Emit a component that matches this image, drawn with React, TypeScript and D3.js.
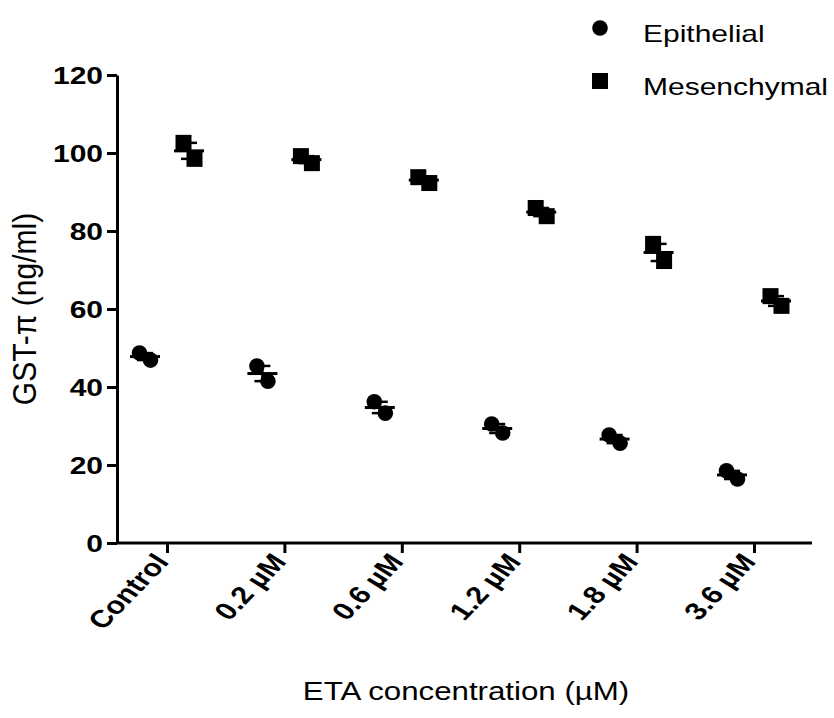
import React, { useEffect, useRef } from 'react'
import * as d3 from 'd3'

// categories / series
const categories = ['Control', '0.2 µM', '0.6 µM', '1.2 µM', '1.8 µM', '3.6 µM']
const seriesNames = ['Epithelial', 'Mesenchymal']
// two replicates per concentration (ng/ml)
const epithelial = [[48.7, 46.9], [45.4, 41.5], [36.2, 33.3], [30.5, 28.2], [27.7, 25.6], [18.5, 16.4]]
const mesenchymal = [[102.6, 98.5], [99.2, 97.4], [93.8, 92.3], [85.9, 83.8], [76.7, 72.3], [63.3, 60.8]]
const yTicks = [0, 20, 40, 60, 80, 100, 120]

const FONT = 'Liberation Sans, Arial, Helvetica, sans-serif'
const SX = 1.25 // horizontal text in the source is drawn a bit wide

export default function App() {
  const ref = useRef<SVGSVGElement>(null)

  useEffect(() => {
    const svg = d3.select(ref.current)
    svg.selectAll('*').remove()

    /* scales */
    const x = d3.scalePoint<string>().domain(categories).range([167, 754])
    const xSeries = d3.scalePoint<string>().domain(seriesNames).range([-22, 22])
    const xRep = d3.scalePoint<number>().domain([0, 1]).range([-5.5, 5.5])
    const y = d3.scaleLinear().domain([0, 120]).range([543, 75])

    /* y axis */
    const yAxis = svg.append('g')
      .attr('transform', 'translate(117,0)')
      .call(d3.axisLeft(y).tickValues(yTicks).tickSize(10).tickSizeOuter(0).tickPadding(4))
    yAxis.select('.domain').attr('stroke', '#000').attr('stroke-width', 3)
    yAxis.selectAll('.tick line').attr('stroke', '#000').attr('stroke-width', 3)
    yAxis.selectAll('.tick text')
      .attr('x', 0)
      .attr('dy', '0.36em')
      .attr('transform', `translate(-14,0) scale(${SX},1)`)
      .attr('font-family', FONT)
      .attr('font-size', 24)
      .attr('font-weight', 'bold')
      .attr('fill', '#000')

    /* x axis */
    const xAxis = svg.append('g')
      .attr('transform', 'translate(0,543)')
      .call(d3.axisBottom(x).tickSize(10).tickSizeOuter(0).tickPadding(4))
    xAxis.select('.domain').attr('d', 'M116,0H812').attr('stroke', '#000').attr('stroke-width', 3)
    xAxis.selectAll('.tick line').attr('stroke', '#000').attr('stroke-width', 3)
    xAxis.selectAll('.tick text')
      .attr('x', 0)
      .attr('y', 0)
      .attr('dy', '0.35em')
      .attr('text-anchor', 'end')
      .attr('transform', `translate(-6,14) scale(${SX},1) rotate(-52)`)
      .attr('font-family', FONT)
      .attr('font-size', 24.5)
      .attr('font-weight', 'bold')
      .attr('fill', '#000')

    /* axis titles */
    svg.append('text')
      .attr('transform', 'translate(36,309) scale(1.08,1) rotate(-90)')
      .attr('text-anchor', 'middle')
      .attr('font-family', FONT)
      .attr('font-size', 30)
      .text('GST-π (ng/ml)')

    svg.append('text')
      .attr('transform', `translate(466,700) scale(${SX},1)`)
      .attr('text-anchor', 'middle')
      .attr('font-family', FONT)
      .attr('font-size', 25)
      .text('ETA concentration (µM)')

    /* points + mean ± SEM */
    const seriesData = [
      { name: 'Epithelial', values: epithelial, shape: 'circle' },
      { name: 'Mesenchymal', values: mesenchymal, shape: 'square' },
    ]
    const plot = svg.append('g')
    seriesData.forEach((s) => {
      s.values.forEach((reps, i) => {
        const cx = (x(categories[i]) as number) + (xSeries(s.name) as number)
        const g = plot.append('g')
        reps.forEach((v, r) => {
          const px = cx + (xRep(r) as number)
          if (s.shape === 'circle') {
            g.append('circle').attr('cx', px).attr('cy', y(v)).attr('r', 7.8).attr('fill', '#000')
          } else {
            g.append('rect').attr('x', px - 8).attr('y', y(v) - 8).attr('width', 16).attr('height', 16).attr('fill', '#000')
          }
        })
        const mean = d3.mean(reps) as number
        const sem = (d3.deviation(reps) as number) / Math.sqrt(reps.length)
        g.append('line').attr('x1', cx).attr('x2', cx).attr('y1', y(mean - sem)).attr('y2', y(mean + sem))
          .attr('stroke', '#000').attr('stroke-width', 2.5)
        ;[mean - sem, mean + sem].forEach((e) => {
          g.append('line').attr('x1', cx - 8).attr('x2', cx + 8).attr('y1', y(e)).attr('y2', y(e))
            .attr('stroke', '#000').attr('stroke-width', 2.5)
        })
        g.append('line').attr('x1', cx - 15).attr('x2', cx + 15).attr('y1', y(mean)).attr('y2', y(mean))
          .attr('stroke', '#000').attr('stroke-width', 3)
      })
    })

    /* legend */
    const legend = svg.append('g')
    seriesData.forEach((s, i) => {
      const ly = 28 + i * 53
      if (s.shape === 'circle') {
        legend.append('circle').attr('cx', 600).attr('cy', ly).attr('r', 7.8).attr('fill', '#000')
      } else {
        legend.append('rect').attr('x', 592).attr('y', ly - 8).attr('width', 16).attr('height', 16).attr('fill', '#000')
      }
      legend.append('text')
        .attr('transform', `translate(643,${ly + 14}) scale(${SX},1)`)
        .attr('font-family', FONT)
        .attr('font-size', 24)
        .text(s.name)
    })
  }, [])

  return (
    <svg ref={ref} width={834} height={718} style={{ position: 'absolute', left: 0, top: 0, background: '#fff' }} />
  )
}
